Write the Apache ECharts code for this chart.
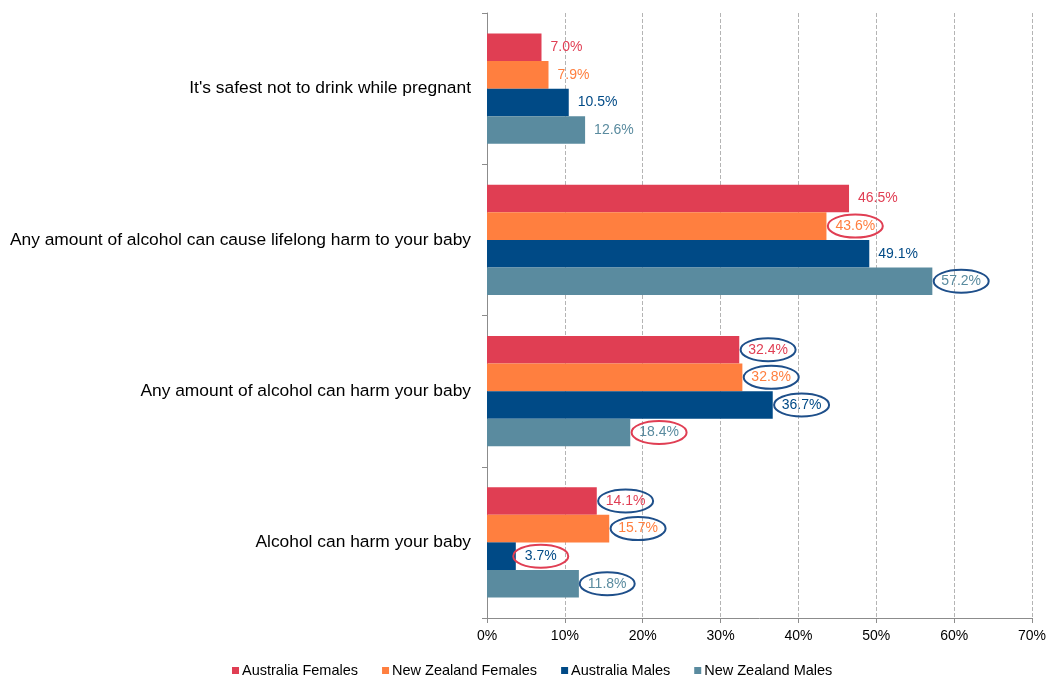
<!DOCTYPE html>
<html>
<head>
<meta charset="utf-8">
<script src="https://cdn.jsdelivr.net/npm/echarts@6/dist/echarts.min.js"></script>
<style>
    html, body { margin: 0; padding: 0; background: #ffffff; }
    #barChart { width: 1050px; height: 677px; }
</style>
</head>
<body>
<div id="barChart"></div>
<script>
// categories, top to bottom
const categories = [
    "It's safest not to drink while pregnant",
    'Any amount of alcohol can cause lifelong harm to your baby',
    'Any amount of alcohol can harm your baby',
    'Alcohol can harm your baby'
];
const seriesNames = ['Australia Females', 'New Zealand Females', 'Australia Males', 'New Zealand Males'];
const ausFemales = [7.0, 46.5, 32.4, 14.1];
const nzFemales  = [7.9, 43.6, 32.8, 15.7];
const ausMales   = [10.5, 49.1, 36.7, 3.7];
const nzMales    = [12.6, 57.2, 18.4, 11.8];
const xTicks = [0, 10, 20, 30, 40, 50, 60, 70];
// circled labels: [series index, category index, ring (0 = red, 1 = blue)]
const circled = [
    [1, 1, 0], [3, 1, 1],
    [0, 2, 1], [1, 2, 1], [2, 2, 1], [3, 2, 0],
    [0, 3, 1], [1, 3, 1], [2, 3, 0], [3, 3, 1]
];

const colors = ['#E03E53', '#FF7F3F', '#004A86', '#5A8B9F'];
const ringColors = ['#E03E53', '#1E4F8A'];
const GAP = 0.27;
const allValues = [ausFemales, nzFemales, ausMales, nzMales];
const FONT = 'Arial, "Liberation Sans"';

const ctx = document.createElement('canvas').getContext('2d');
ctx.font = '14px ' + FONT;

const barSeries = seriesNames.map(function (name, i) {
    return {
        name: name,
        type: 'bar',
        data: allValues[i],
        barGap: '0%',
        barCategoryGap: (GAP * 100) + '%',
        itemStyle: { color: colors[i] },
        label: {
            show: true,
            position: 'right',
            distance: 9,
            fontSize: 14,
            fontFamily: FONT,
            color: colors[i],
            formatter: function (p) { return p.value.toFixed(1) + '%'; }
        }
    };
});

const ringData = circled.map(function (c) {
    return [allValues[c[0]][c[1]], c[1], c[0], c[2]];
});

// ellipses drawn round some of the labels
const ringSeries = {
    type: 'custom',
    z: 5,
    silent: true,
    encode: { x: 0, y: 1 },
    data: ringData,
    renderItem: function (params, api) {
        const val = api.value(0);
        const s = api.value(2);
        const p = api.coord([val, api.value(1)]);
        const band = api.size([0, 1])[1];
        const barW = band * (1 - GAP) / 4;
        const cy = p[1] - band * (1 - GAP) / 2 + (s + 0.5) * barW;
        const tw = ctx.measureText(val.toFixed(1) + '%').width;
        const cx = p[0] + 9 + tw / 2;
        return {
            type: 'ellipse',
            shape: { cx: cx, cy: cy, rx: 27.5, ry: 11.5 },
            style: { fill: 'none', stroke: ringColors[api.value(3)], lineWidth: 2 }
        };
    }
};

const option = {
    animation: false,
    textStyle: { fontFamily: FONT },
    grid: { left: 487, right: 18, top: 13, bottom: 59, containLabel: false },
    legend: {
        data: seriesNames,
        top: 658,
        left: 227,
        icon: 'rect',
        itemWidth: 7,
        itemHeight: 7,
        itemGap: 24,
        textStyle: { fontSize: 14.5, color: '#000000', padding: [0, 0, 0, -2] }
    },
    xAxis: {
        type: 'value',
        min: xTicks[0],
        max: xTicks[xTicks.length - 1],
        interval: 10,
        axisLine: { show: true, lineStyle: { color: '#8c8c8c' } },
        axisTick: { show: true, length: 5, lineStyle: { color: '#8c8c8c' } },
        axisLabel: { fontSize: 14, color: '#000000', margin: 11, formatter: '{value}%' },
        splitLine: { show: true, lineStyle: { color: '#b4b4b4', type: 'dashed' } }
    },
    yAxis: {
        type: 'category',
        data: categories,
        inverse: true,
        axisLine: { show: true, lineStyle: { color: '#8c8c8c' } },
        axisTick: { show: true, length: 5, lineStyle: { color: '#8c8c8c' } },
        axisLabel: { fontSize: 17.4, color: '#000000', margin: 16 }
    },
    series: barSeries.concat([ringSeries])
};

const barChart = echarts.init(document.getElementById('barChart'));
barChart.setOption(option);
</script>
</body>
</html>
